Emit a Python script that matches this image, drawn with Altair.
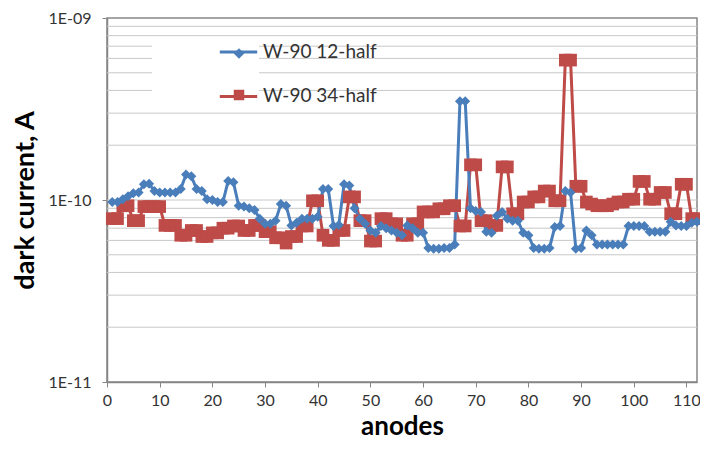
import altair as alt
import pandas as pd

anodes = list(range(1, 113))

# dark current in units of 1E-10 A
blue_vals = [
    0.975, 0.975, 1.01, 1.05, 1.09, 1.10, 1.22, 1.23, 1.12, 1.10,
    1.10, 1.10, 1.10, 1.15, 1.38, 1.35, 1.15, 1.12, 1.01, 1.00,
    0.975, 0.975, 1.27, 1.25, 0.93, 0.92, 0.90, 0.88, 0.79, 0.74,
    0.74, 0.77, 0.95, 0.93, 0.725, 0.75, 0.79, 0.79, 0.79, 0.81,
    1.15, 1.15, 0.72, 0.73, 1.22, 1.20, 0.90, 0.79, 0.74, 0.68,
    0.66, 0.72, 0.70, 0.68, 0.66, 0.64, 0.725, 0.70, 0.66, 0.66,
    0.545, 0.54, 0.54, 0.545, 0.545, 0.57, 3.49, 3.49, 0.90, 0.87,
    0.86, 0.67, 0.66, 0.82, 0.86, 0.79, 0.77, 0.77, 0.66, 0.64,
    0.545, 0.54, 0.54, 0.545, 0.71, 0.72, 1.12, 1.10, 0.54, 0.545,
    0.68, 0.64, 0.57, 0.57, 0.57, 0.57, 0.57, 0.57, 0.72, 0.72,
    0.72, 0.72, 0.67, 0.67, 0.67, 0.67, 0.76, 0.725, 0.72, 0.72,
    0.75, 0.76,
]
red_vals = [
    0.79, 0.79, 0.93, 0.93, 0.77, 0.77, 0.92, 0.92, 0.92, 0.92,
    0.725, 0.725, 0.725, 0.64, 0.64, 0.68, 0.68, 0.63, 0.63, 0.66,
    0.66, 0.70, 0.70, 0.72, 0.72, 0.68, 0.68, 0.725, 0.725, 0.67,
    0.67, 0.62, 0.62, 0.58, 0.63, 0.63, 0.72, 0.72, 0.99, 0.99,
    0.64, 0.60, 0.60, 0.68, 0.68, 1.04, 1.04, 0.77, 0.77, 0.595,
    0.595, 0.79, 0.79, 0.74, 0.74, 0.64, 0.64, 0.74, 0.74, 0.86,
    0.86, 0.86, 0.895, 0.895, 0.93, 0.93, 0.72, 0.72, 1.56, 1.56,
    0.77, 0.77, 0.725, 0.725, 1.52, 1.52, 0.84, 0.84, 0.975, 0.975,
    1.04, 1.04, 1.12, 1.12, 0.99, 0.99, 5.87, 5.87, 1.19, 1.19,
    0.975, 0.95, 0.93, 0.93, 0.93, 0.95, 0.975, 0.975, 1.01, 1.01,
    1.265, 1.265, 1.01, 1.01, 1.10, 1.10, 0.84, 0.84, 1.22, 1.22,
    0.79, 0.79,
]

series_names = ["W-90 12-half", "W-90 34-half"]
series_colors = ["#4A7EBB", "#BE4B48"]
series_shapes = ["diamond", "square"]
series_sizes = [100, 160]

x_ticks = [0, 10, 20, 30, 40, 50, 60, 70, 80, 90, 100, 110]
y_ticks = [1e-11, 1e-10, 1e-9]
grid_vals = [2e-11, 3e-11, 4e-11, 5e-11, 6e-11, 7e-11, 8e-11, 9e-11,
             1e-10, 2e-10, 3e-10, 4e-10, 5e-10, 6e-10, 7e-10, 8e-10, 9e-10]

rows = []
for name, vals in ((series_names[1], red_vals), (series_names[0], blue_vals)):
    for a, v in zip(anodes, vals):
        rows.append({"anode": a, "current": v * 1e-10, "series": name})
df = pd.DataFrame(rows)

AX = "#868686"
xscale = alt.Scale(domain=[0, 112], nice=False, zero=False)
yscale = alt.Scale(type="log", domain=[1e-11, 1e-9], nice=False)

xaxis = alt.Axis(values=x_ticks, title="anodes", grid=False, tickSize=5,
                 labelFontSize=16, labelColor="#333333", labelPadding=5, labelFlush=False,
                 titleFontSize=26, titleFontWeight="bold", titleColor="black", titlePadding=5,
                 domainColor=AX, tickColor=AX, domainWidth=1.5)
yaxis = alt.Axis(values=y_ticks, title="dark current, A", grid=False, tickSize=5,
                 labelFontSize=16, labelColor="#333333", labelPadding=11, labelFlush=False,
                 labelExpr="datum.value < 3e-11 ? '1E-11' : (datum.value < 3e-10 ? '1E-10' : '1E-09')",
                 titleFontSize=27, titleFontWeight="bold", titleColor="black", titlePadding=8,
                 domainColor=AX, tickColor=AX, domainWidth=1.5)

X = alt.X("anode:Q", scale=xscale, axis=xaxis)
Y = alt.Y("current:Q", scale=yscale, axis=yaxis)

# legend part 1: line segments and series names (drawn on top)
leg_lines = alt.Legend(orient="none", legendX=45, legendY=7.5, title="\u00a0", titleOrient="left",
                       titleFontSize=1, titlePadding=60, symbolType="stroke", symbolSize=1400,
                       symbolStrokeWidth=3, labelFontSize=19, labelColor="#333333", labelOffset=4,
                       rowPadding=13.4, padding=6, zindex=2)
# legend part 2: the markers, with the white legend box
blank = "\u00a0" * 56
leg_marks = alt.Legend(orient="none", legendX=45, legendY=20, title="\u00a0", titleOrient="left",
                       titleFontSize=1, titlePadding=60, labelFontSize=19,
                       labelExpr="'" + blank + "'",
                       rowPadding=21.5, padding=6, symbolOffset=11.5, symbolSize=110,
                       symbolStrokeWidth=0, symbolOpacity=1, fillColor="white", zindex=1)

grid = alt.Chart(pd.DataFrame({"g": grid_vals})).mark_rule(color="#c8c8c8", strokeWidth=1).encode(
    y=alt.Y("g:Q", scale=yscale, axis=yaxis)
)

line = alt.Chart(df).mark_line(strokeWidth=3).encode(
    x=X, y=Y,
    color=alt.Color("series:N", scale=alt.Scale(domain=series_names, range=series_colors), legend=leg_lines),
)

def points(i):
    return alt.Chart(df).transform_filter(
        alt.datum.series == series_names[i]
    ).mark_point(filled=True, opacity=1, strokeWidth=0, shape=series_shapes[i],
                 size=series_sizes[i], color=series_colors[i]).encode(x=X, y=Y)

# invisible layer that only provides the marker legend
legend_layer = alt.Chart(df).mark_point(filled=True, opacity=0, strokeWidth=0).encode(
    x=X, y=Y,
    color=alt.Color("series_l:N", scale=alt.Scale(domain=series_names, range=series_colors), legend=leg_marks),
    shape=alt.Shape("series_l:N", scale=alt.Scale(domain=series_names, range=series_shapes), legend=leg_marks),
).transform_calculate(series_l="datum.series")

chart = (
    alt.layer(grid, line, points(1), points(0), legend_layer)
    .resolve_scale(color="independent", shape="independent")
    .properties(width=590, height=364,
                autosize=alt.AutoSizeParams(type="none"),
                padding={"left": 99, "top": 10, "right": 3, "bottom": 57})
    .configure(font="Lato")
    .configure_view(stroke=AX, strokeWidth=1.5)
)

chart.save("out.html", embed_options={"renderer": "svg", "actions": False})
